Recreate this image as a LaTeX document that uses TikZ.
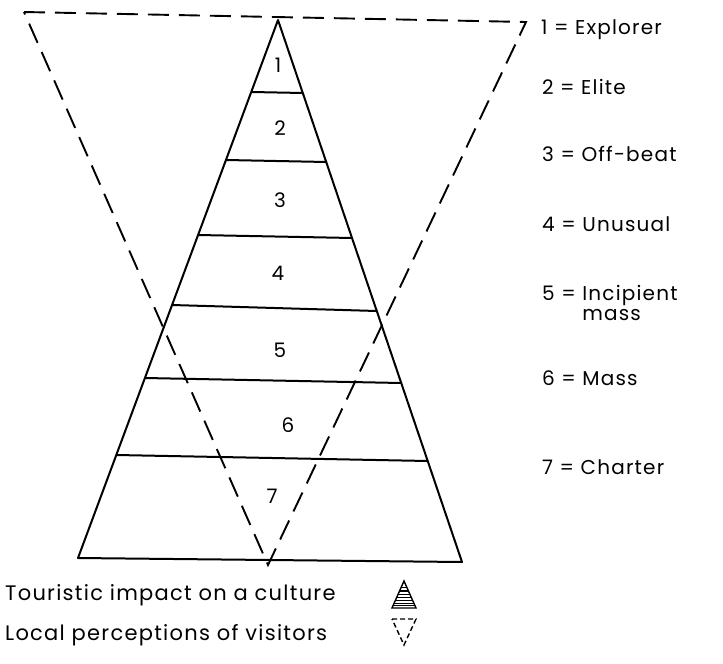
\documentclass[tikz,border=0pt]{standalone}
\usepackage{fontspec}
\setmainfont{Poppins}
\usetikzlibrary{calc}
\begin{document}
\begin{tikzpicture}[x=1pt,y=-1pt,
  solidln/.style={line width=2pt, line join=round},
  dashln/.style={line width=1.9pt, dash pattern=on 21pt off 10pt},
  thinln/.style={line width=1.4pt},
  num/.style={font=\fontsize{20}{20}\selectfont, inner sep=0pt},
  legend/.style={font=\fontsize{20}{15}\selectfont\addfontfeature{LetterSpace=6}, anchor=west, inner sep=0pt, align=left},
  caption/.style={font=\fontsize{21}{21}\selectfont\addfontfeature{LetterSpace=6}, anchor=west, inner sep=0pt}]
\useasboundingbox (0,0) rectangle (723,664);
% pyramid
\coordinate (A) at (278,20);
\coordinate (BL) at (78,558);
\coordinate (BR) at (462,562);
\draw[solidln] (BL) -- (A) -- (BR) -- cycle;
\foreach \n/\yl/\yr in {1/92/93,2/160/162,3/235/238,4/305/311,5/378/383,6/455/461}{
  \coordinate (L\n) at ($(A)!{(\yl-20)/538}!(BL)$);
  \coordinate (R\n) at ($(A)!{(\yr-20)/542}!(BR)$);
  \draw[solidln] (L\n) -- (R\n);
}
% dashed inverted triangle
\coordinate (D1) at (24,12);
\coordinate (D2) at (526,22);
\coordinate (D3) at (268,565);
\draw[dashln] (D1) -- (D2) -- (D3) -- cycle;
% numbers
\node[num] (n1) at (278,65) {1};
\node[num] (n2) at (280,128) {2};
\node[num] (n3) at (280,200) {3};
\node[num] (n4) at (278,273) {4};
\node[num] (n5) at (280,350) {5};
\node[num] (n6) at (288,425) {6};
\node[num] (n7) at (272,496) {7};
% legend
\node[legend] (k1) at (541,30) {1 = Explorer};
\node[legend] (k2) at (542,87) {2 = Elite};
\node[legend] (k3) at (542,154) {3 = Off-beat};
\node[legend] (k4) at (542,224) {4 = Unusual};
\node[legend] (k5) at (542,303) {5 = Incipient\\\phantom{5 = }mass};
\node[legend] (k6) at (542,378) {6 = Mass};
\node[legend] (k7) at (542,467) {7 = Charter};
% captions
\node[caption] (c1) at (5,595) {Touristic impact on a culture};
\node[caption] (c2) at (5,635) {Local perceptions of visitors};
% legend icons
\coordinate (ia) at (404,581);
\coordinate (ibl) at (392,608);
\coordinate (ibr) at (416,608);
\draw[thinln] (ibl) -- (ia) -- (ibr) -- cycle;
\foreach \t in {0.25,0.37,0.49,0.61,0.72,0.82,0.91}{
  \draw[line width=1.2pt] ($(ia)!\t!(ibl)$) -- ($(ia)!\t!(ibr)$);
}
\coordinate (ja) at (404,645);
\coordinate (jl) at (392,619);
\coordinate (jr) at (416,619);
\draw[thinln, dash pattern=on 5pt off 3pt] (jl) -- (jr) -- (ja) -- cycle;
\end{tikzpicture}
\end{document}
